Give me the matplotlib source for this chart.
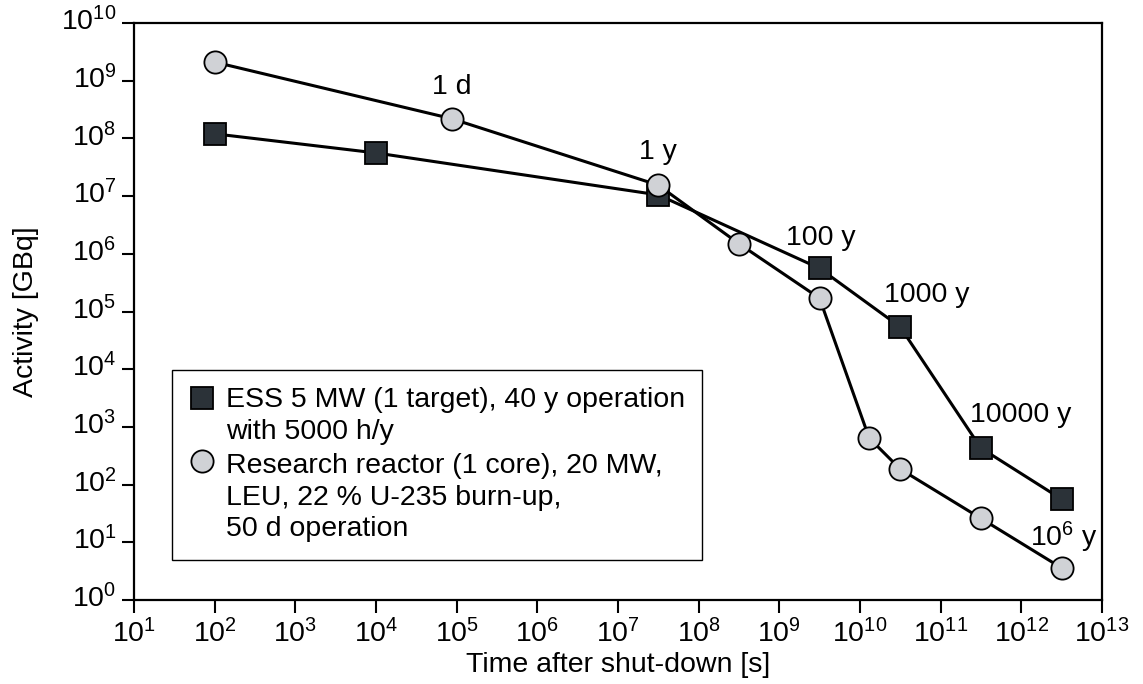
import math
import numpy as np
import matplotlib
matplotlib.use("Agg")
import matplotlib.pyplot as plt
from matplotlib.ticker import FixedLocator, FuncFormatter, NullLocator
from matplotlib.legend_handler import HandlerLine2D
from matplotlib.transforms import ScaledTranslation

plt.rcParams['font.family'] = ['Liberation Sans', 'DejaVu Sans']
plt.rcParams['mathtext.fontset'] = 'custom'
plt.rcParams['mathtext.rm'] = 'Liberation Sans'
plt.rcParams['mathtext.it'] = 'Liberation Sans'

# --- data (time in s, activity in GBq) ---
ess_time = [1e2, 1e4, 3.15e7, 3.15e9, 3.15e10, 3.15e11, 3.15e12]
ess_act = [1.2e8, 5.6e7, 1.05e7, 5.6e5, 5.4e4, 430, 56]

rr_time = [1e2, 8.64e4, 3.15e7, 3.15e8, 3.15e9, 1.3e10, 3.15e10, 3.15e11, 3.15e12]
rr_act = [2.1e9, 2.2e8, 1.55e7, 1.5e6, 1.7e5, 640, 186, 26, 3.6]

ess_label = "ESS 5 MW (1 target), 40 y operation\nwith 5000 h/y"
rr_label = "Research reactor (1 core), 20 MW,\nLEU, 22 % U-235 burn-up,\n50 d operation"

# annotations: (series, index, text, offset in points)
notes = [
    ("rr", 1, "1 d", (0, 23)),
    ("rr", 2, "1 y", (0, 24)),
    ("ess", 3, "100 y", (1, 22)),
    ("ess", 4, "1000 y", (19, 23)),
    ("ess", 5, "10000 y", (29, 24)),
    ("rr", 8, "$\\mathregular{10^6}$ y", (2, 22)),
]

x_exp = list(range(1, 14))
y_exp = list(range(0, 11))

FS = 20.5
LSP = 1.28


class TopLineHandler(HandlerLine2D):
    """put the marker next to the first line of a multi-line label"""

    def __init__(self, nlines, **kw):
        super().__init__(**kw)
        self.nlines = nlines

    def create_artists(self, legend, orig_handle, xdescent, ydescent,
                       width, height, fontsize, trans):
        arts = super().create_artists(legend, orig_handle, xdescent, ydescent,
                                      width, height, fontsize, trans)
        shift = (self.nlines - 1) / 2 * fontsize * LSP
        for a in arts:
            a.set_ydata(np.asarray(a.get_ydata()) + shift)
        return arts


fig = plt.figure(figsize=(11.43, 6.84), dpi=100)
ax = fig.add_axes([134 / 1143, 84 / 684, 968 / 1143, 577 / 684])

l1, = ax.plot(ess_time, ess_act, '-', color='black', lw=2.2, marker='s', ms=16,
              mfc='#2b3238', mec='black', mew=1.3, label=ess_label, zorder=3)
l2, = ax.plot(rr_time, rr_act, '-', color='black', lw=2.2, marker='o', ms=16,
              mfc='#d0d2d6', mec='black', mew=1.3, label=rr_label, zorder=4)

ax.set_xscale('log')
ax.set_yscale('log')
ax.set_xlim(10 ** x_exp[0], 10 ** x_exp[-1])
ax.set_ylim(10 ** y_exp[0], 10 ** y_exp[-1])

fmt = FuncFormatter(lambda v, p: "$\\mathregular{10^{%d}}$" % round(math.log10(v)))
ax.xaxis.set_major_locator(FixedLocator([10.0 ** e for e in x_exp]))
ax.yaxis.set_major_locator(FixedLocator([10.0 ** e for e in y_exp]))
ax.xaxis.set_minor_locator(NullLocator())
ax.yaxis.set_minor_locator(NullLocator())
ax.xaxis.set_major_formatter(fmt)
ax.yaxis.set_major_formatter(fmt)
ax.tick_params(axis='both', which='major', direction='out', length=9.5, width=1.5,
               labelsize=FS, pad=4)
ax.tick_params(axis='y', length=8.5)

for s in ax.spines.values():
    s.set_linewidth(1.6)

ax.set_xlabel("Time after shut-down [s]", fontsize=FS, labelpad=3)
ax.set_ylabel("Activity [GBq]", fontsize=FS, labelpad=16)

series = {"ess": (ess_time, ess_act), "rr": (rr_time, rr_act)}
for key, i, txt, off in notes:
    xs, ys = series[key]
    ax.annotate(txt, (xs[i], ys[i]), xytext=off, textcoords='offset points',
                ha='center', va='center', fontsize=FS, zorder=5)

leg = ax.legend(handles=[l1, l2], loc='upper left',
                bbox_to_anchor=(172 / 1143, 1 - 370 / 684),
                bbox_transform=fig.transFigure, fontsize=FS, frameon=True,
                fancybox=False, edgecolor='black', framealpha=1,
                handlelength=0.9, handletextpad=0.4, numpoints=1,
                borderpad=0.6, labelspacing=0.3, borderaxespad=0,
                handler_map={l1: TopLineHandler(2), l2: TopLineHandler(3)})
leg.get_frame().set_linewidth(1.0)
for t in leg.get_texts():
    t.set_linespacing(LSP)
for h in leg.legend_handles:
    h.set_linestyle('none')
    h.set_markersize(16)

# keep the base "10" centred on the y ticks, superscript sticking out above
fig.canvas.draw()
up = ScaledTranslation(0, 3 / 72, fig.dpi_scale_trans)
for tick in ax.yaxis.get_major_ticks():
    tick.label1.set_transform(tick.label1.get_transform() + up)

fig.savefig("out.png", dpi=100)
